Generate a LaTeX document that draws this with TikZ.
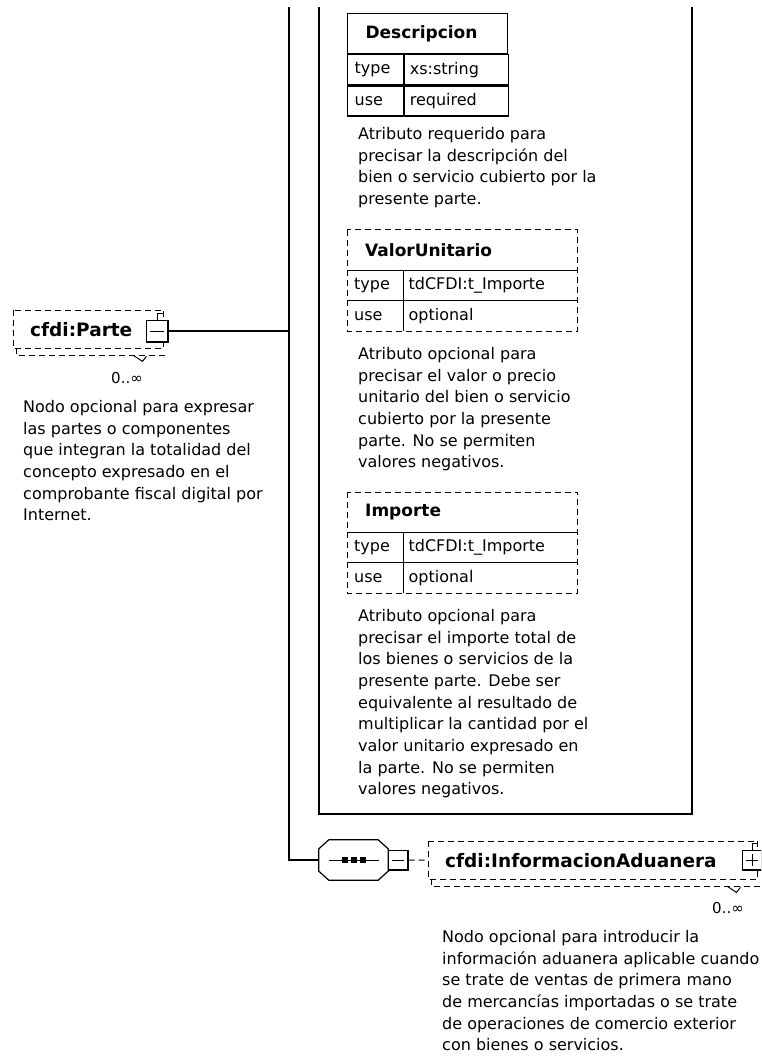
\documentclass[tikz,border=0pt]{standalone}
\usepackage{fontspec}
\setmainfont{DejaVu Sans}
\usetikzlibrary{calc,positioning}
\tikzstyle{link} = [line width=1.2pt]
\tikzstyle{optline} = [line width=1pt, dash pattern=on 6pt off 4pt]
\tikzstyle{elembox} = [inner ysep=0pt, inner xsep=17pt, minimum height=38pt, anchor=north west, align=left, font=\bfseries\fontsize{18.5}{18.5}\selectfont]
\tikzstyle{togglebox} = [draw, fill=white, line width=1pt, minimum size=20pt, inner sep=0pt]
\tikzstyle{attrhead} = [minimum height=40pt, inner xsep=18pt, inner ysep=0pt, anchor=north west, align=left, font=\bfseries\fontsize{17}{17}\selectfont]
\tikzstyle{attrkey} = [minimum height=30pt, text width=42pt, inner xsep=7pt, inner ysep=0pt, anchor=north west, align=left, font=\fontsize{16}{16}\selectfont]
\tikzstyle{attrval} = [minimum height=30pt, inner xsep=5pt, inner ysep=0pt, anchor=north west, align=left, font=\fontsize{16}{16}\selectfont]
\tikzstyle{note} = [inner sep=0pt, anchor=north west, align=left, font=\fontsize{16}{21.7}\selectfont]
\tikzstyle{mult} = [inner sep=0pt, font=\fontsize{15}{15}\selectfont]

\begin{document}
\begin{tikzpicture}[x=1pt, y=-1pt]
                \useasboundingbox (0,0) rectangle (761,1059);
                \clip (0,0) rectangle (761,1059);

                \coordinate (jtop) at (289,7);
                \coordinate (jn) at (289,331);
                \coordinate (jbend) at (289,860);
                \coordinate (ftl) at (319,7);
                \coordinate (fbl) at (319,814);
                \coordinate (fbr) at (692,814);
                \coordinate (ftr) at (692,7);
                \draw [link] (ftl) -- (fbl) -- (fbr) -- (ftr);

                \node (dhead) [attrhead, draw, link, text width=124pt] at (347,13) {Descripcion};
                \node (dtypek) [attrkey, draw, link] at (dhead.south west) {type};
                \node (dtypev) [attrval, draw, link, text width=94pt] at (dtypek.north east) {xs:string};
                \node (dusek) [attrkey, draw, link] at (dtypek.south west) {use};
                \node (dusev) [attrval, draw, link, text width=94pt] at (dusek.north east) {required};
                \node (dnote) [note] at (358,127) {Atributo requerido para\\precisar la descripción del\\bien o servicio cubierto por la\\presente parte.};

                \node (vhead) [attrhead, text width=194pt] at (347,230) {ValorUnitario};
                \node (vtypek) [attrkey] at (vhead.south west) {type};
                \node (vtypev) [attrval, text width=164pt] at (vtypek.north east) {tdCFDI:t\_Importe};
                \node (vusek) [attrkey] at (vtypek.south west) {use};
                \node (vusev) [attrval, text width=164pt] at (vusek.north east) {optional};
                \draw [optline] (vhead.north west) rectangle (vusev.south east);
                \draw [line width=1pt] (vhead.south west) -- (vhead.south east);
                \draw [line width=1pt] (vtypek.south west) -- (vtypev.south east);
                \draw [line width=1pt] (vtypek.north east) -- (vusek.south east);
                \node (vnote) [note] at (358,347) {Atributo opcional para\\precisar el valor o precio\\unitario del bien o servicio\\cubierto por la presente\\parte. No se permiten\\valores negativos.};

                \node (ihead) [attrhead, text width=194pt] at (347,492) {Importe};
                \node (itypek) [attrkey] at (ihead.south west) {type};
                \node (itypev) [attrval, text width=164pt] at (itypek.north east) {tdCFDI:t\_Importe};
                \node (iusek) [attrkey] at (itypek.south west) {use};
                \node (iusev) [attrval, text width=164pt] at (iusek.north east) {optional};
                \draw [optline] (ihead.north west) rectangle (iusev.south east);
                \draw [line width=1pt] (ihead.south west) -- (ihead.south east);
                \draw [line width=1pt] (itypek.south west) -- (itypev.south east);
                \draw [line width=1pt] (itypek.north east) -- (iusek.south east);
                \node (inote) [note] at (358,609) {Atributo opcional para\\precisar el importe total de\\los bienes o servicios de la\\presente parte. Debe ser\\equivalente al resultado de\\multiplicar la cantidad por el\\valor unitario expresado en\\la parte. No se permiten\\valores negativos.};

                \node (parte) [elembox, text width=116pt] at (13,310) {cfdi:Parte};
                \draw [optline] (parte.north west) rectangle (parte.south east);
                \draw [optline] ($(parte.south west)+(3,0)$) -- ++(0,7) -- ($(parte.south east)+(3,7)$);
                \draw [line width=1pt] ($(parte.south east)+(-30,7)$) -- ++(9,6) -- ++(4,-5);
                \node (pmin) [togglebox, minimum size=22pt] at (157.5,331) {};
                \draw [line width=2pt] ($(pmin.south west)+(1,-1)$) -- ($(pmin.south east)+(-1,-1)$) -- ($(pmin.north east)+(-1,1)$);
                \draw [line width=1pt] ($(pmin.west)+(4,0)$) -- ($(pmin.east)+(-5,0)$);
                \draw [line width=1pt] (pmin.north) -- ++(0,-6) -- ++(6,0);
                \node (pmult) [mult] at (127,378) {0..∞};
                \node (pnote) [note] at (23,400) {Nodo opcional para expresar\\las partes o componentes\\que integran la totalidad del\\concepto expresado en el\\comprobante fiscal digital por\\Internet.};

                \draw [link] (pmin) -- (jn);
                \node (seq) [minimum width=69pt, minimum height=40pt, inner sep=0pt] at (353.5,860) {};
                \draw [link] ($(seq.north west)+(10,0)$) -- ($(seq.north east)+(-10,0)$) -- ($(seq.north east)+(0,9)$) -- ($(seq.south east)+(0,-9)$) -- ($(seq.south east)+(-10,0)$) -- ($(seq.south west)+(10,0)$) -- ($(seq.south west)+(0,-9)$) -- ($(seq.north west)+(0,9)$) -- cycle;
                \draw [link] (jtop) -- (jbend) -- (seq);
                \draw [line width=1pt] ($(seq.center)+(-25,0)$) -- ($(seq.center)+(25,0)$);
                \foreach \dx in {-9,0,9}
                    \fill ($(seq.center)+(\dx-3,-3)$) rectangle ++(6,6);
                \node (smin) [togglebox] at (398,860) {};
                \draw [line width=2pt] ($(smin.south west)+(1,-1)$) -- ($(smin.south east)+(-1,-1)$) -- ($(smin.north east)+(-1,1)$);
                \draw [line width=1pt] ($(smin.west)+(4,0)$) -- ($(smin.east)+(-5,0)$);

                \node (adu) [elembox, text width=295pt] at (428,841) {cfdi:InformacionAduanera};
                \draw [optline] (smin) -- (adu);
                \draw [optline] (adu.north west) rectangle (adu.south east);
                \draw [optline] ($(adu.south west)+(3,0)$) -- ++(0,7) -- ($(adu.south east)+(3,7)$);
                \draw [line width=1pt] ($(adu.south east)+(-30,7)$) -- ++(9,6) -- ++(4,-5);
                \node (amin) [togglebox] at (752,860) {};
                \draw [line width=2pt] ($(amin.south west)+(1,-1)$) -- ($(amin.south east)+(-1,-1)$) -- ($(amin.north east)+(-1,1)$);
                \draw [line width=1pt] ($(amin.west)+(4,0)$) -- ($(amin.east)+(-5,0)$);
                \draw [line width=1pt] ($(amin.north)+(0,4)$) -- ($(amin.south)+(0,-5)$);
                \draw [line width=1pt] (amin.north) -- ++(0,-6) -- ++(6,0);
                \node (amult) [mult] at (728,908) {0..∞};
                \node (anote) [note] at (442,930) {Nodo opcional para introducir la\\información aduanera aplicable cuando\\se trate de ventas de primera mano\\de mercancías importadas o se trate\\de operaciones de comercio exterior\\con bienes o servicios.};
            \end{tikzpicture}
\end{document}
